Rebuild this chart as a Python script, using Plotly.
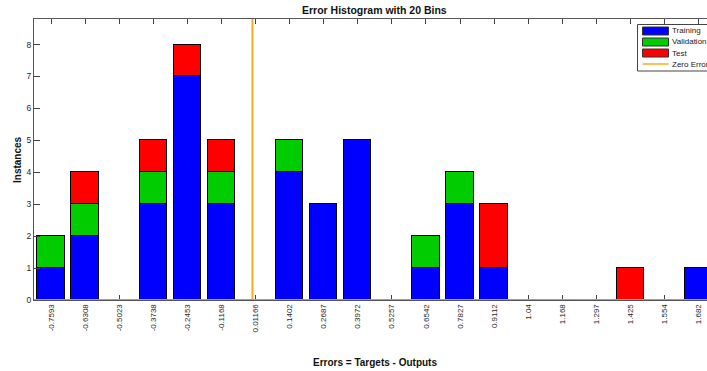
import plotly.graph_objects as go

# Error histogram: 20 bins, stacked counts per data split
bin_centers = [-0.7593, -0.6308, -0.5023, -0.3738, -0.2453, -0.1168, 0.01166,
               0.1402, 0.2687, 0.3972, 0.5257, 0.6542, 0.7827, 0.9112, 1.04,
               1.168, 1.297, 1.425, 1.554, 1.682]
tick_labels = ["-0.7593", "-0.6308", "-0.5023", "-0.3738", "-0.2453", "-0.1168",
               "0.01166", "0.1402", "0.2687", "0.3972", "0.5257", "0.6542",
               "0.7827", "0.9112", "1.04", "1.168", "1.297", "1.425", "1.554",
               "1.682"]
training = [1, 2, 0, 3, 7, 3, 0, 4, 3, 5, 0, 1, 3, 1, 0, 0, 0, 0, 0, 1]
validation = [1, 1, 0, 1, 0, 1, 0, 1, 0, 0, 0, 1, 1, 0, 0, 0, 0, 0, 0, 0]
test = [0, 1, 0, 1, 1, 1, 0, 0, 0, 0, 0, 0, 0, 2, 0, 0, 0, 1, 0, 0]
series_names = ["Training", "Validation", "Test"]
series_colors = ["#0000ff", "#00cc00", "#ff0000"]
zero_name = "Zero Error"
zero_color = "#ffa826"

W, H = 707, 371
ML, MR, MT, MB = 34, 0, 19, 71
PW, PH = W - ML - MR, H - MT - MB

n = len(bin_centers)
bw = (bin_centers[-1] - bin_centers[0]) / (n - 1)
totals = [a + b + c for a, b, c in zip(training, validation, test)]
ymax = max(totals) * 1.1
px_per_unit = 34.08 / bw
x0 = bin_centers[0] - 0.5 * bw
x1 = x0 + PW / px_per_unit

FONT = "Liberation Sans, Arial, sans-serif"


def xp(px):
    return (px - ML) / PW


def yp(py):
    return (H - MB - py) / PH


fig = go.Figure()
for name, vals, col in zip(series_names, [training, validation, test], series_colors):
    fig.add_trace(go.Bar(
        x=bin_centers, y=vals, width=0.8 * bw, name=name,
        marker=dict(color=col, line=dict(color="#000000", width=1)),
        showlegend=False,
    ))

fig.add_trace(go.Scatter(
    x=[0, 0], y=[0, ymax], mode="lines", name=zero_name,
    line=dict(color=zero_color, width=2), showlegend=False,
))

shapes = [
    # bar baseline
    dict(type="line", xref="paper", yref="y", x0=0, x1=1, y0=0, y1=0,
         line=dict(color="#a0a0a0", width=2), layer="above"),
    # legend frame
    dict(type="rect", xref="paper", yref="paper", x0=xp(637.5), x1=xp(760),
         y0=yp(71), y1=yp(24.5), line=dict(color="#444444", width=1),
         fillcolor="white", layer="above"),
]
annotations = []
row_y = [31, 42, 53, 64]
for name, col, ry in zip(series_names, series_colors, row_y[:3]):
    shapes.append(dict(type="rect", xref="paper", yref="paper",
                       x0=xp(642.5), x1=xp(668.5), y0=yp(ry + 4), y1=yp(ry - 4),
                       fillcolor=col, line=dict(color="#333333", width=1),
                       layer="above"))
for name, ry in zip(series_names + [zero_name], row_y):
    annotations.append(dict(text=name, xref="paper", yref="paper",
                            x=xp(669.5), y=yp(ry), xanchor="left", yanchor="middle",
                            showarrow=False, font=dict(family=FONT, size=8, color="#222222")))
shapes.append(dict(type="line", xref="paper", yref="paper",
                   x0=xp(642.5), x1=xp(668.5), y0=yp(row_y[3]), y1=yp(row_y[3]),
                   line=dict(color=zero_color, width=1.5), layer="above"))

annotations += [
    dict(text="<b>Error Histogram with 20 Bins</b>", xref="paper", yref="paper",
         x=xp(374), y=yp(10), xanchor="center", yanchor="middle", showarrow=False,
         font=dict(family=FONT, size=10.5, color="#111111")),
    dict(text="<b>Errors = Targets - Outputs</b>", xref="paper", yref="paper",
         x=xp(375), y=yp(362), xanchor="center", yanchor="middle", showarrow=False,
         font=dict(family=FONT, size=10, color="#111111")),
    dict(text="<b>Instances</b>", xref="paper", yref="paper",
         x=xp(17), y=yp(160), xanchor="center", yanchor="middle", showarrow=False,
         textangle=-90, font=dict(family=FONT, size=10, color="#111111")),
]

fig.update_layout(
    width=W, height=H,
    margin=dict(l=ML, r=MR, t=MT, b=MB, autoexpand=False),
    paper_bgcolor="white", plot_bgcolor="white",
    barmode="stack", bargap=0,
    shapes=shapes, annotations=annotations,
    font=dict(family=FONT, size=9, color="#262626"),
)
fig.update_xaxes(
    range=[x0, x1], tickmode="array", tickvals=bin_centers, ticktext=tick_labels,
    tickangle=-90, ticks="inside", ticklen=5, tickcolor="#444444",
    showline=True, linecolor="#555555", linewidth=1, mirror="ticks",
    showgrid=False, zeroline=False, layer="below traces",
    tickfont=dict(family=FONT, size=8, color="#262626"),
)
fig.update_yaxes(
    range=[0, ymax], tickmode="array", tickvals=list(range(0, 9)),
    ticks="inside", ticklen=6, tickcolor="#444444",
    showline=True, linecolor="#555555", linewidth=1, mirror=False,
    showgrid=False, zeroline=False,
    tickfont=dict(family=FONT, size=8.5, color="#262626"),
)

fig.write_html("out.html")
